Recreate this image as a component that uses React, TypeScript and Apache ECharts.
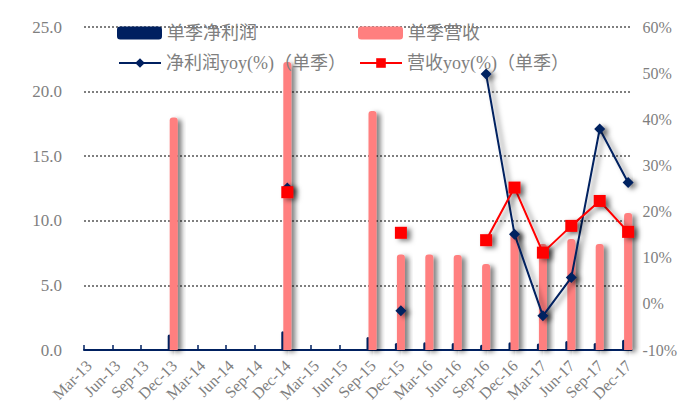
import React, { useEffect, useRef } from "react";
import * as echarts from "echarts";

// Quarter labels
const categories = [
  "Mar-13", "Jun-13", "Sep-13", "Dec-13",
  "Mar-14", "Jun-14", "Sep-14", "Dec-14",
  "Mar-15", "Jun-15", "Sep-15", "Dec-15",
  "Mar-16", "Jun-16", "Sep-16", "Dec-16",
  "Mar-17", "Jun-17", "Sep-17", "Dec-17",
];

// 单季净利润 (left axis)
const netProfit: (number | null)[] = [
  null, null, null, 1.2,
  null, null, null, 1.45,
  null, null, 1.0, 0.55,
  0.6, 0.55, 0.4, 0.6,
  0.5, 0.7, 0.55, 0.8,
];

// 单季营收 (left axis)
const revenue: (number | null)[] = [
  null, null, null, 18.0,
  null, null, null, 22.3,
  null, null, 18.5, 7.4,
  7.4, 7.35, 6.65, 9.2,
  8.2, 8.6, 8.2, 10.6,
];

// 净利润yoy(%) 单季 (right axis, percent)
const netProfitYoy: (number | null)[] = [
  null, null, null, null,
  null, null, null, 25.1,
  null, null, null, -1.5,
  null, null, 49.8, 15.1,
  -2.6, 5.7, 37.9, 26.3,
];

// 营收yoy(%) 单季 (right axis, percent)
const revenueYoy: (number | null)[] = [
  null, null, null, null,
  null, null, null, 24.2,
  null, null, null, 15.4,
  null, null, 13.8, 25.2,
  11.1, 16.9, 22.3, 15.6,
];

const leftTicks = { min: 0, max: 25, interval: 5 };
const rightTicks = { min: -10, max: 60, interval: 10 };

const NAVY = "#002060";
const PINK = "#FF7F7F";
const RED = "#FF0000";
const GRAY = "#7F7F7F";
const SERIF = "'Liberation Serif', 'Noto Sans CJK SC', serif";

// Horizontal layout of the category axis (pixels)
const GRID_LEFT = 84;
const GRID_RIGHT = 46.5;
const GRID_TOP = 27;
const GRID_BOTTOM = 54;
const STEP = 28.4; // pixels per quarter
const SPAN = (678 - GRID_LEFT - GRID_RIGHT) / STEP;
const DATA_SHIFT = 4.5 / STEP;
const LABEL_SHIFT_PX = 5;

const shadow = {
  shadowColor: "rgba(0,0,0,0.5)",
  shadowBlur: 5,
  shadowOffsetX: 4,
  shadowOffsetY: 2,
};

const toBars = (arr: (number | null)[]) =>
  arr
    .map((v, i) => (v == null ? null : [i, v]))
    .filter((d) => d !== null) as number[][];

const toLine = (arr: (number | null)[]) =>
  arr.map((v, i) => (v == null ? [i, "-"] : [i, v]));

const indexValues = categories.map((_, i) => i);

export default function App() {
  const ref = useRef<HTMLDivElement>(null);

  useEffect(() => {
    if (!ref.current) return;
    const chart = echarts.init(ref.current, undefined, { renderer: "svg" });

    const legendText = {
      color: GRAY,
      fontSize: 18,
      fontFamily: SERIF,
    };

    chart.setOption({
      animation: false,
      backgroundColor: "#ffffff",
      grid: [
        {
          left: GRID_LEFT,
          right: GRID_RIGHT,
          top: GRID_TOP,
          bottom: GRID_BOTTOM,
          outerBoundsMode: "none",
          containLabel: false,
        },
        {
          // carries the rotated quarter labels, nudged right of the ticks
          left: GRID_LEFT + LABEL_SHIFT_PX,
          right: GRID_RIGHT - LABEL_SHIFT_PX,
          top: GRID_TOP,
          bottom: GRID_BOTTOM,
          outerBoundsMode: "none",
          containLabel: false,
        },
      ],
      legend: [
        {
          data: ["单季净利润"],
          left: 117,
          top: 24,
          padding: 0,
          icon: "roundRect",
          itemWidth: 45,
          itemHeight: 13,
          itemGap: 4,
          textStyle: legendText,
        },
        {
          data: ["单季营收"],
          left: 358,
          top: 24,
          padding: 0,
          icon: "roundRect",
          itemWidth: 45,
          itemHeight: 13,
          itemGap: 4,
          textStyle: legendText,
        },
        {
          data: ["净利润yoy(%)（单季）"],
          left: 118,
          top: 54,
          padding: 0,
          itemWidth: 42,
          itemHeight: 12,
          textStyle: legendText,
        },
        {
          data: ["营收yoy(%)（单季）"],
          left: 359,
          top: 54,
          padding: 0,
          itemWidth: 42,
          itemHeight: 12,
          textStyle: legendText,
        },
      ],
      xAxis: [
        {
          // axis line and tick marks at each quarter
          type: "value",
          gridIndex: 0,
          position: "bottom",
          min: 0,
          max: SPAN,
          axisLine: { show: true, onZero: false, lineStyle: { color: NAVY, width: 2 } },
          axisTick: {
            show: true,
            inside: true,
            length: 5,
            customValues: indexValues,
            lineStyle: { color: NAVY, width: 1.5 },
          },
          axisLabel: { show: false },
          splitLine: { show: false },
        },
        {
          // positions of revenue bars and yoy lines
          type: "value",
          gridIndex: 0,
          position: "bottom",
          show: false,
          min: -DATA_SHIFT,
          max: SPAN - DATA_SHIFT,
        },
        {
          // rotated quarter labels
          type: "value",
          gridIndex: 1,
          position: "bottom",
          min: 0,
          max: SPAN,
          axisLine: { show: false, onZero: false },
          axisTick: { show: false },
          splitLine: { show: false },
          axisLabel: {
            show: true,
            customValues: indexValues,
            rotate: 45,
            margin: 13,
            hideOverlap: false,
            color: GRAY,
            fontSize: 16,
            fontFamily: SERIF,
            formatter: (v: number) => categories[Math.round(v)] ?? "",
          },
        },
      ],
      yAxis: [
        {
          type: "value",
          gridIndex: 0,
          position: "left",
          ...leftTicks,
          axisLine: { show: false },
          axisTick: { show: false },
          axisLabel: {
            margin: 22,
            color: GRAY,
            fontSize: 17,
            fontFamily: SERIF,
            formatter: (v: number) => v.toFixed(1),
          },
          splitLine: {
            show: true,
            lineStyle: { color: GRAY, width: 2, type: [2, 2] },
          },
        },
        {
          type: "value",
          gridIndex: 0,
          position: "right",
          ...rightTicks,
          axisLine: { show: false },
          axisTick: { show: false },
          axisLabel: {
            margin: 11,
            color: GRAY,
            fontSize: 16,
            fontFamily: SERIF,
            formatter: "{value}%",
          },
          splitLine: { show: false },
        },
        {
          type: "value",
          gridIndex: 1,
          show: false,
          min: 0,
          max: 1,
        },
      ],
      series: [
        {
          name: "单季净利润",
          type: "bar",
          xAxisIndex: 0,
          yAxisIndex: 0,
          barWidth: 3,
          data: toBars(netProfit),
          itemStyle: { color: NAVY, borderRadius: [2, 2, 0, 0], ...shadow },
        },
        {
          name: "单季营收",
          type: "bar",
          xAxisIndex: 1,
          yAxisIndex: 0,
          barWidth: 8,
          data: toBars(revenue),
          itemStyle: { color: PINK, borderRadius: [3, 3, 0, 0], ...shadow },
        },
        {
          name: "净利润yoy(%)（单季）",
          type: "line",
          xAxisIndex: 1,
          yAxisIndex: 1,
          data: toLine(netProfitYoy),
          symbol: "diamond",
          symbolSize: 11,
          showAllSymbol: true,
          connectNulls: false,
          lineStyle: { color: NAVY, width: 2, ...shadow },
          itemStyle: { color: NAVY, ...shadow },
          z: 3,
        },
        {
          name: "营收yoy(%)（单季）",
          type: "line",
          xAxisIndex: 1,
          yAxisIndex: 1,
          data: toLine(revenueYoy),
          symbol: "rect",
          symbolSize: 12,
          showAllSymbol: true,
          connectNulls: false,
          lineStyle: { color: RED, width: 2, ...shadow },
          itemStyle: { color: RED, ...shadow },
          z: 4,
        },
      ],
    });

    return () => chart.dispose();
  }, []);

  return (
    <div
      ref={ref}
      style={{ position: "absolute", left: 0, top: 0, width: 678, height: 404 }}
    />
  );
}
